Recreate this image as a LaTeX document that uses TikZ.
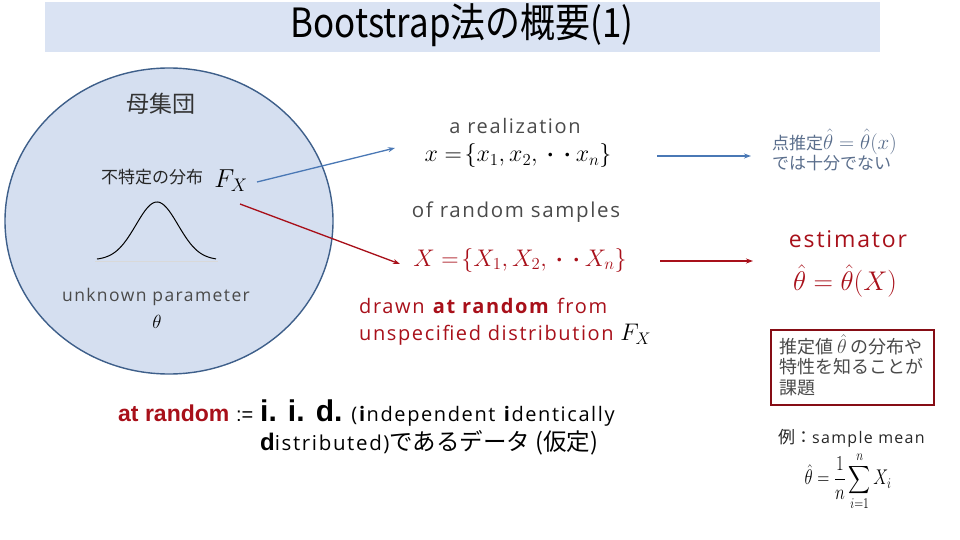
\RequirePackage{fix-cm}
\documentclass[tikz,border=0pt]{standalone}
\usepackage{amsmath}
\usepackage[no-math]{fontspec}
\setmainfont{Open Sans}[LetterSpace=8]
\newfontfamily\jp{Noto Sans CJK JP}
\newfontfamily\arialf{Liberation Sans}
\usetikzlibrary{arrows.meta,shapes.geometric}
\definecolor{titlefill}{HTML}{DAE3F3}
\definecolor{circfill}{HTML}{D5DFF0}
\definecolor{circdraw}{HTML}{3E5F8A}
\definecolor{arrblue}{HTML}{4A78B5}
\definecolor{darkred}{HTML}{A8101A}
\definecolor{txtgray}{HTML}{4A4A4A}
\definecolor{bluegray}{HTML}{5A6E8C}
\newcommand{\fs}[1]{\fontsize{#1pt}{1.2\dimexpr #1pt\relax}\selectfont}
\begin{document}
\begin{tikzpicture}[x=1pt,y=-1pt,
  lbl/.style={inner sep=0pt, text=txtgray},
  redlbl/.style={inner sep=0pt, text=darkred},
  arrowb/.style={draw=arrblue, line width=1.3pt, -{Stealth[length=7pt,width=5pt]}},
  arrowr/.style={draw=darkred, line width=1.3pt, -{Stealth[length=7pt,width=5pt]}},
  goalbox/.style={draw=darkred!80!black, line width=1.6pt, fill=white, inner sep=0pt, minimum width=163pt, minimum height=75pt}
]
\useasboundingbox (0,0) rectangle (960,540);
% title
\node[fill=titlefill, minimum width=835pt, minimum height=50pt, inner sep=0pt] (titlebar) at (462.5,27) {};
\node[inner sep=0pt, text=black] (title) at (462,25) {\scalebox{0.97}[1.12]{\jp\fs{36}Bootstrap法の概要(1)}};
% population circle
\node[ellipse, draw=circdraw, fill=circfill, line width=1.4pt, minimum width=328pt, minimum height=306pt, inner sep=0pt] (pop) at (169,221) {};
\node[lbl, text=black!80, font=\jp\fs{23}] (popname) at (161,104) {母集団};
\node[lbl, text=black!85, font=\jp\fs{17}] (dist) at (152,177) {不特定の分布};
\node[inner sep=0pt, font=\fs{26}] (fx) at (231,181) {$F_X$};
\draw[gray!30, line width=1pt] (95,261) -- (218,261);
\draw[black, line width=1pt] plot[domain=97:216, samples=80] (\x, {260 - 58*exp(-((\x-157)/21)^2/2)});
\node[lbl, font=\fs{17.5}] (unk) at (156,297) {unknown parameter};
\node[inner sep=0pt, font=\fs{19}] (theta) at (157,322) {$\theta$};
% middle texts
\node[lbl, font=\fs{20}] (real) at (515,126) {a realization};
\node[inner sep=0pt, font=\fs{24}] (xs) at (518,156) {$x =\!\{x_1, x_2,\text{\jp\fs{17}・・}x_n\}$};
\node[lbl, font=\fs{20.5}] (ofrs) at (516,212) {of random samples};
\node[inner sep=0pt, text=darkred, font=\fs{24}] (Xs) at (520,260) {$X =\!\{X_1, X_2,\text{\jp\fs{17}・・}X_n\}$};
\node[redlbl, anchor=west, font=\fs{20}] (drawn1) at (359,306) {drawn \textbf{at random} from};
\node[redlbl, anchor=west, font=\fs{20}] (drawn2) at (359,335) {unspecified distribution \textcolor{black}{\fs{24}$F_X$}};
% coordinates for arrow ends
\coordinate (b1s) at (257,182);
\coordinate (b1e) at (395,148);
\coordinate (r1s) at (240,204);
\coordinate (r1e) at (400,264);
\coordinate (b2s) at (657,156);
\coordinate (b2e) at (751,156);
\coordinate (r2s) at (660,261);
\coordinate (r2e) at (753,261);
\draw[arrowb] (b1s) -- (b1e);
\draw[arrowr] (r1s) -- (r1e);
\draw[arrowb] (b2s) -- (b2e);
\draw[arrowr] (r2s) -- (r2e);
% right texts
\node[inner sep=0pt, text=bluegray, anchor=west, font=\jp\fs{17}] (pe1) at (772,142) {点推定{\fs{21}$\hat\theta = \hat\theta(x)$}};
\node[inner sep=0pt, text=bluegray, anchor=west, font=\jp\fs{17}] (pe2) at (772,163) {では十分でない};
\node[redlbl, font=\fs{23}] (estim) at (848,239) {estimator};
\node[inner sep=0pt, text=darkred, font=\fs{27}] (estf) at (845,281) {$\hat\theta = \hat\theta(X)$};
\node[goalbox] (goal) at (852.5,367.5) {};
\node[lbl, anchor=west, font=\jp\fs{18}] (g1) at (779,345) {推定値 {\fs{20}$\hat\theta$} の分布や};
\node[lbl, anchor=west, font=\jp\fs{18}] (g2) at (779,367) {特性を知ることが};
\node[lbl, anchor=west, font=\jp\fs{18}] (g3) at (779,388) {課題};
\node[lbl, text=black!85, anchor=west, font=\fs{16}] (ex) at (778,438) {{\jp\fs{17}例：}sample mean};
\node[inner sep=0pt, font=\fs{19}] (mean) at (848,481) {\scalebox{0.88}[1.12]{$\displaystyle\hat\theta = \frac{1}{n}\sum_{i=1}^{n} X_i$}};
% bottom
\node[inner sep=0pt, anchor=base west, font=\fs{20}] (iid1) at (118,421) {{\arialf\bfseries\fs{23}\textcolor{darkred}{at random}} {\arialf:=} {\arialf\bfseries\fs{30}i. i. d.} (\textbf{i}ndependent \textbf{i}dentically};
\node[inner sep=0pt, anchor=base west, font=\fs{20.5}] (iid2) at (260,450) {{\arialf\bfseries\fs{24}d}istributed){\jp\fs{23.5}であるデータ (仮定)}};
\end{tikzpicture}
\end{document}
